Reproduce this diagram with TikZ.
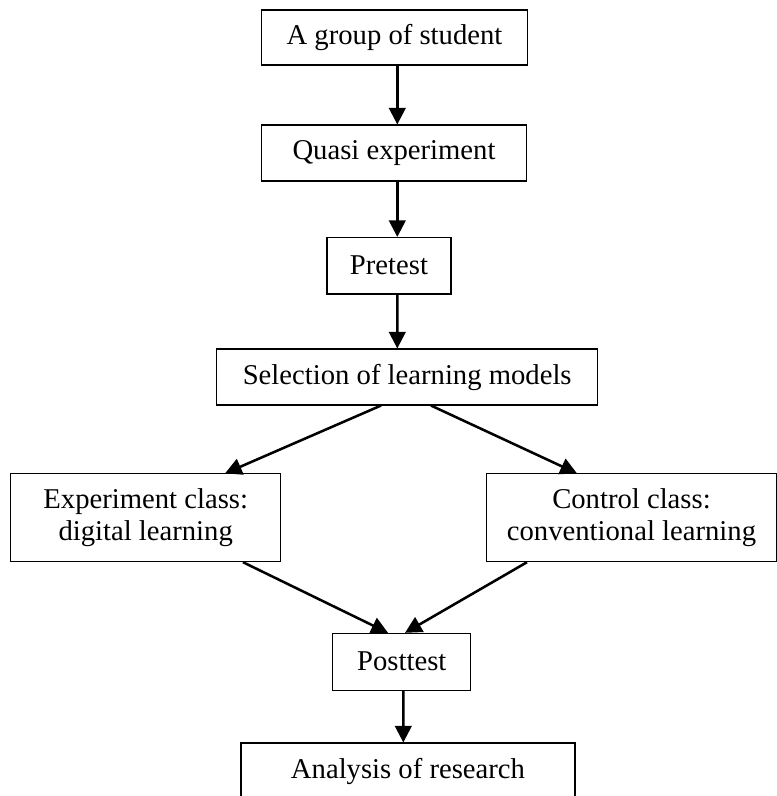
\documentclass[tikz,border=0pt]{standalone}
\usepackage{fontspec}
\setmainfont{Liberation Serif}
\usetikzlibrary{arrows.meta,calc}
\begin{document}
\begin{tikzpicture}[x=0.75pt,y=-0.75pt,
  box/.style={draw=black,line width=0.8pt,align=center,inner sep=0pt,
    font=\fontsize{21.5}{23.8}\selectfont},
  arr/.style={line width=1.9pt,-{Triangle[width=12.5pt,length=12.5pt]}}]
\clip (0,0) rectangle (777,796);
\node[box,minimum width=199.5pt,minimum height=41.25pt] (b1) at (394.5,37.5) {A group of student};
\node[box,minimum width=198.75pt,minimum height=42pt] (b2) at (394,153) {Quasi experiment};
\node[box,minimum width=93pt,minimum height=42.4pt] (b3) at (389,265.75) {Pretest};
\node[box,minimum width=285.75pt,minimum height=42pt] (b4) at (407.2,377) {Selection of learning models};
\node[box,minimum width=202.5pt,minimum height=65.8pt] (b5) at (145.7,517.8) {Experiment class:\\digital learning};
\node[box,minimum width=217.1pt,minimum height=65.8pt] (b6) at (631.5,517.8) {Control class:\\conventional learning};
\node[box,minimum width=103.7pt,minimum height=42.5pt] (b7) at (401.8,661.7) {Posttest};
\node[box,minimum width=250.5pt,minimum height=42pt] (b8) at (408,771) {Analysis of research};
\draw[arr] ($(b1.south)+(2.8,0)$) -- ($(b2.north)+(3.3,0)$);
\draw[arr] ($(b2.south)+(3.3,0)$) -- ($(b3.north)+(8.3,0)$);
\draw[arr] ($(b3.south)+(8.3,0)$) -- ($(b4.north)+(-9.9,0)$);
\draw[arr] ($(b4.south)+(-26.2,0)$) -- ($(b5.north)+(79.3,0)$);
\draw[arr] ($(b4.south)+(23.8,0)$) -- ($(b6.north)+(-54.5,0)$);
\draw[arr] ($(b5.south)+(97.3,0)$) -- ($(b7.north)+(-13.8,0)$);
\draw[arr] ($(b6.south)+(-104.5,0)$) -- ($(b7.north)+(3.2,0)$);
\draw[arr] ($(b7.south)+(1.5,0)$) -- ($(b8.north)+(-4.7,0)$);
\end{tikzpicture}
\end{document}
